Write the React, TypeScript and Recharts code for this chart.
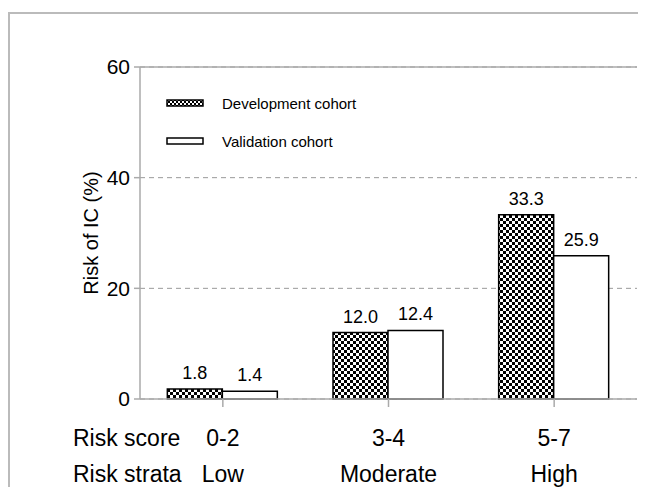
import { BarChart, Bar, XAxis, YAxis, CartesianGrid, LabelList, ReferenceLine } from 'recharts';

const riskScores = ['0-2', '3-4', '5-7'];
const riskStrata = ['Low', 'Moderate', 'High'];
const development = [1.8, 12.0, 33.3];
const validation = [1.4, 12.4, 25.9];
const yTicks = [0, 20, 40, 60];
const cohorts = ['Development cohort', 'Validation cohort'];

const data = riskScores.map((score, i) => ({
  score,
  strata: riskStrata[i],
  dev: development[i],
  val: validation[i]
}));

const AXIS = '#aaaaaa';
const FONT = 'Liberation Sans, Arial, sans-serif';

// two rows of category labels plus the row headers on the left
function CategoryTick(props: any) {
  const { x, y, index } = props;
  const base = y - 10;
  return (
    <g fontFamily={FONT} fontSize={23} fill="#000">
      {index === 0 && (
        <>
          <text x={65} y={base + 47} textAnchor="start">Risk score</text>
          <text x={65} y={base + 83} textAnchor="start">Risk strata</text>
        </>
      )}
      <text x={x} y={base + 47} textAnchor="middle">{riskScores[index]}</text>
      <text x={x} y={base + 83} textAnchor="middle">{riskStrata[index]}</text>
    </g>
  );
}

function CohortLegend() {
  return (
    <div style={{ position: 'absolute', left: 158, top: 76, fontFamily: FONT, fontSize: 15 }}>
      {cohorts.map((label, i) => (
        <div key={label} style={{ display: 'flex', alignItems: 'center', height: 38 }}>
          <svg width={38} height={8} style={{ marginRight: 18 }}>
            <defs>
              <pattern id="checkerLeg" width={4} height={4} patternUnits="userSpaceOnUse">
                <rect width={4} height={4} fill="#fff" />
                <rect width={2} height={2} fill="#000" />
                <rect x={2} y={2} width={2} height={2} fill="#000" />
              </pattern>
            </defs>
            <rect x={1} y={1} width={36} height={6}
              fill={i === 0 ? 'url(#checkerLeg)' : '#fff'} stroke="#000" strokeWidth={1.5} />
          </svg>
          <span>{label}</span>
        </div>
      ))}
    </div>
  );
}

export default function App() {
  return (
    <div style={{ position: 'relative', width: 638, height: 479 }}>
      <div style={{ position: 'absolute', left: 0, top: 4, right: 0, bottom: 0, borderTop: '2px solid #bbb', borderLeft: '2px solid #bbb' }} />
      <BarChart width={638} height={479} data={data} margin={{ top: 59, right: 9, left: 62, bottom: 0 }}
        barGap={0} barCategoryGap="16.5%">
        <defs>
          <pattern id="checker" width={6} height={6} patternUnits="userSpaceOnUse">
            <rect width={6} height={6} fill="#fff" />
            <rect width={3} height={3} fill="#000" />
            <rect x={3} y={3} width={3} height={3} fill="#000" />
          </pattern>
        </defs>
        <CartesianGrid vertical={false} stroke="#999" strokeDasharray="5 4" />
        <XAxis dataKey="score" height={88} tickSize={8} tickLine={{ stroke: AXIS, strokeWidth: 1.5 }}
          axisLine={{ stroke: AXIS, strokeWidth: 1.5 }} tick={<CategoryTick />} interval={0} />
        <YAxis domain={[0, 60]} ticks={yTicks} width={70} tickSize={6} tickMargin={4}
          axisLine={{ stroke: AXIS, strokeWidth: 1.5 }} tickLine={{ stroke: AXIS, strokeWidth: 1.5 }}
          tick={{ fill: '#000', fontSize: 21, fontFamily: FONT }}
          label={{ value: 'Risk of IC (%)', angle: -90, position: 'insideLeft', offset: 0, dx: 21,
            style: { fill: '#000', fontSize: 20, fontFamily: FONT, textAnchor: 'middle' } }} />
        <YAxis yAxisId="r" orientation="right" width={0} tick={false} tickLine={false}
          axisLine={{ stroke: AXIS, strokeWidth: 1.5 }} />
        <ReferenceLine y={60} stroke={AXIS} strokeWidth={1.5} />
        <Bar dataKey="dev" name="Development cohort" fill="url(#checker)" stroke="#000" strokeWidth={1.5} isAnimationActive={false}>
          <LabelList dataKey="dev" position="top" offset={10} formatter={(v: any) => Number(v).toFixed(1)}
            style={{ fill: '#000', fontSize: 18, fontFamily: FONT }} />
        </Bar>
        <Bar dataKey="val" name="Validation cohort" fill="#fff" stroke="#000" strokeWidth={1.5} isAnimationActive={false}>
          <LabelList dataKey="val" position="top" offset={10} formatter={(v: any) => Number(v).toFixed(1)}
            style={{ fill: '#000', fontSize: 18, fontFamily: FONT }} />
        </Bar>
      </BarChart>
      <CohortLegend />
    </div>
  );
}
